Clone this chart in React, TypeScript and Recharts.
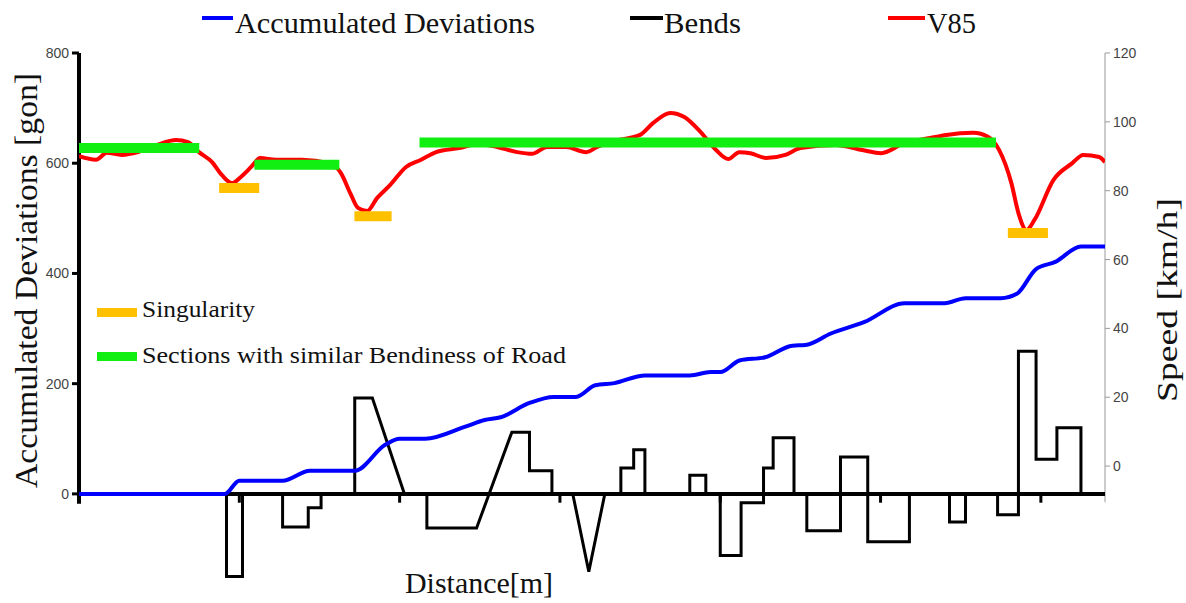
import React from "react";
import { ComposedChart, Line, XAxis, YAxis, ReferenceLine } from "recharts";

// ---- Data (distance in m) ----
const accDistance = [0, 455, 500, 635, 720, 860, 955, 1000, 1080, 1205, 1265, 1315, 1405, 1480, 1550, 1610, 1670, 1765, 1905, 1970, 2000, 2060, 2140, 2225, 2265, 2345, 2450, 2575, 2700, 2765, 2875, 2925, 2985, 3045, 3125, 3200];
const accValues = [0, 0, 24, 24, 42, 42, 89, 100, 100, 122, 134, 139, 165, 176, 176, 197, 201, 215, 215, 221, 221, 242, 248, 269, 270, 291, 312, 346, 346, 355, 355, 363, 408, 421, 449, 449];

const bendDistance = [0, 460, 460, 510, 510, 635, 635, 715, 715, 755, 755, 860, 860, 915, 1015, 1085, 1085, 1240, 1350, 1405, 1405, 1475, 1475, 1540, 1590, 1640, 1690, 1690, 1730, 1730, 1765, 1765, 1905, 1905, 1955, 1955, 2000, 2000, 2065, 2065, 2135, 2135, 2165, 2165, 2230, 2230, 2270, 2270, 2375, 2375, 2460, 2460, 2590, 2590, 2715, 2715, 2765, 2765, 2865, 2865, 2930, 2930, 2985, 2985, 3050, 3050, 3125, 3125];
const bendValues = [0, 0, -150, -150, 0, 0, -60, -60, -25, -25, 0, 0, 174, 174, 0, 0, -62, -62, 112, 112, 42, 42, 0, 0, -141, 0, 0, 47, 47, 80, 80, 0, 0, 34, 34, 0, 0, -112, -112, -16, -16, 47, 47, 102, 102, 0, 0, -67, -67, 67, 67, -87, -87, 0, 0, -51, -51, 0, 0, -38, -38, 259, 259, 63, 63, 120, 120, 0];

const v85Distance = [0, 53, 87, 134, 184, 243, 303, 340, 374, 415, 446, 477, 505, 537, 565, 615, 696, 780, 817, 846, 870, 899, 930, 970, 1020, 1067, 1114, 1186, 1245, 1304, 1367, 1413, 1460, 1519, 1582, 1616, 1654, 1750, 1791, 1844, 1888, 1941, 1987, 2025, 2059, 2094, 2143, 2203, 2250, 2359, 2443, 2502, 2574, 2655, 2705, 2789, 2836, 2870, 2908, 2930, 2955, 2980, 3039, 3098, 3132, 3182, 3200];
const v85Values = [90, 89, 91, 90.4, 91.2, 93.3, 94.7, 94.1, 91.2, 88.3, 84.5, 82.2, 84, 86.9, 89.5, 89, 89, 88, 85.1, 79.3, 75, 74.1, 77.9, 81.6, 86.9, 89, 91.2, 92.4, 93.6, 92.7, 91.2, 90.7, 92.7, 92.7, 91.2, 92.7, 94.1, 96.2, 99.7, 102.6, 101.4, 96.8, 91.8, 89.2, 91.2, 90.9, 89.5, 90.4, 92.4, 93.3, 91.8, 90.9, 93.8, 95.3, 96.2, 96.8, 95.6, 91.8, 82.2, 73.5, 68.6, 71.5, 83.1, 88, 90.4, 89.8, 88.3];

const sectionStart = [0, 547, 1062];
const sectionEnd = [375, 812, 2860];
const sectionSpeed = [92.4, 87.5, 94];

const singularityStart = [437, 859, 2897];
const singularityEnd = [562, 975, 3022];
const singularitySpeed = [80.8, 72.6, 67.7];

const distanceTicks = [500, 1000, 1500, 2000, 2500, 3000];
const leftTicks = [0, 200, 400, 600, 800];
const rightTicks = [0, 20, 40, 60, 80, 100, 120];

const COLORS = {
  acc: "#0000ff",
  bends: "#000000",
  v85: "#ff0000",
  section: "#11ee11",
  singularity: "#ffc000",
};

const accRows = accDistance.map((d, i) => ({ d, v: accValues[i] }));
const bendRows = bendDistance.map((d, i) => ({ d, v: bendValues[i] }));
const v85Rows = v85Distance.map((d, i) => ({ d, v: v85Values[i] }));
const sectionRows = sectionStart.map((s, i) => [
  { d: s, v: sectionSpeed[i] },
  { d: sectionEnd[i], v: sectionSpeed[i] },
]);
const singularityRows = singularityStart.map((s, i) => [
  { d: s, v: singularitySpeed[i] },
  { d: singularityEnd[i], v: singularitySpeed[i] },
]);

const W = 1186;
const H = 603;
const serif = "'Liberation Serif', 'Times New Roman', serif";
const sans = "'Liberation Sans', Arial, sans-serif";

export default function App() {
  return (
    <div style={{ position: "absolute", left: 0, top: 0, width: W, height: H, background: "#fff" }}>
      <ComposedChart
        width={W}
        height={H}
        margin={{ top: 53, right: 0, bottom: 4.4, left: 0 }}
      >
        <XAxis type="number" dataKey="d" domain={[0, 3200]} hide allowDataOverflow />
        <YAxis
          yAxisId="left"
          orientation="left"
          width={79}
          domain={[-190, 800]}
          ticks={leftTicks}
          allowDataOverflow
          axisLine={false}
          tickLine={{ stroke: "#000", strokeWidth: 3 }}
          tickSize={7}
          tickMargin={3}
          tick={{ fontFamily: sans, fontSize: 14, fill: "#444" }}
        />
        <YAxis
          yAxisId="right"
          orientation="right"
          width={81}
          domain={[-38.5, 120]}
          ticks={rightTicks}
          allowDataOverflow
          axisLine={false}
          tickLine={{ stroke: "#999", strokeWidth: 1 }}
          tickSize={5}
          tickMargin={3}
          tick={{ fontFamily: sans, fontSize: 14, fill: "#444" }}
        />

        {/* axis lines */}
        <ReferenceLine
          yAxisId="right"
          segment={[{ x: 3200, y: -10.5 }, { x: 3200, y: 120 }]}
          stroke="#999"
          strokeWidth={1}
          ifOverflow="visible"
        />
        <ReferenceLine
          yAxisId="left"
          segment={[{ x: 0, y: -18 }, { x: 0, y: 800 }]}
          stroke="#000"
          strokeWidth={4}
          ifOverflow="visible"
        />
        <ReferenceLine yAxisId="left" y={0} stroke="#000" strokeWidth={4} ifOverflow="visible" />
        {distanceTicks.map((t) => (
          <ReferenceLine
            key={"t" + t}
            yAxisId="left"
            segment={[{ x: t, y: 0 }, { x: t, y: -16 }]}
            stroke="#000"
            strokeWidth={3}
            ifOverflow="visible"
          />
        ))}

        <Line
          yAxisId="left"
          data={bendRows}
          dataKey="v"
          type="linear"
          stroke={COLORS.bends}
          strokeWidth={3}
          dot={false}
          activeDot={false}
          isAnimationActive={false}
        />
        <Line
          yAxisId="right"
          data={v85Rows}
          dataKey="v"
          type="monotone"
          stroke={COLORS.v85}
          strokeWidth={4}
          dot={false}
          activeDot={false}
          isAnimationActive={false}
        />
        {sectionRows.map((rows, i) => (
          <Line
            key={"s" + i}
            yAxisId="right"
            data={rows}
            dataKey="v"
            type="linear"
            stroke={COLORS.section}
            strokeWidth={10}
            strokeLinecap="butt"
            dot={false}
            activeDot={false}
            isAnimationActive={false}
          />
        ))}
        {singularityRows.map((rows, i) => (
          <Line
            key={"g" + i}
            yAxisId="right"
            data={rows}
            dataKey="v"
            type="linear"
            stroke={COLORS.singularity}
            strokeWidth={10}
            strokeLinecap="butt"
            dot={false}
            activeDot={false}
            isAnimationActive={false}
          />
        ))}
        <Line
          yAxisId="left"
          data={accRows}
          dataKey="v"
          type="monotone"
          stroke={COLORS.acc}
          strokeWidth={4}
          dot={false}
          activeDot={false}
          isAnimationActive={false}
        />
      </ComposedChart>

      <svg
        width={W}
        height={H}
        style={{ position: "absolute", left: 0, top: 0, pointerEvents: "none" }}
      >
        {/* top legend */}
        <line x1={202} y1={18} x2={233} y2={18} stroke={COLORS.acc} strokeWidth={4} />
        <text x={235} y={33} fontFamily={serif} fontSize={29} fill="#111" textLength={300} lengthAdjust="spacingAndGlyphs">
          Accumulated Deviations
        </text>
        <line x1={630} y1={18} x2={663} y2={18} stroke={COLORS.bends} strokeWidth={4} />
        <text x={664} y={33} fontFamily={serif} fontSize={29} fill="#111" textLength={77} lengthAdjust="spacingAndGlyphs">
          Bends
        </text>
        <line x1={888} y1={18} x2={925} y2={18} stroke={COLORS.v85} strokeWidth={4} />
        <text x={927} y={33} fontFamily={serif} fontSize={29} fill="#111" textLength={49} lengthAdjust="spacingAndGlyphs">
          V85
        </text>

        {/* inner legend */}
        <rect x={97} y={308} width={40} height={9} fill={COLORS.singularity} />
        <text x={142} y={317} fontFamily={serif} fontSize={24} fill="#111" textLength={113} lengthAdjust="spacingAndGlyphs">
          Singularity
        </text>
        <rect x={97} y={352} width={40} height={9} fill={COLORS.section} />
        <text x={142} y={363} fontFamily={serif} fontSize={24} fill="#111" textLength={424} lengthAdjust="spacingAndGlyphs">
          Sections with similar Bendiness of Road
        </text>

        {/* axis titles */}
        <text
          x={0}
          y={0}
          transform="translate(37,280.5) rotate(-90)"
          textAnchor="middle"
          fontFamily={serif}
          fontSize={32}
          fill="#111"
          textLength={415}
          lengthAdjust="spacingAndGlyphs"
        >
          Accumulated Deviations [gon]
        </text>
        <text
          x={0}
          y={0}
          transform="translate(1177,300) rotate(-90)"
          textAnchor="middle"
          fontFamily={serif}
          fontSize={30}
          fill="#111"
          textLength={204}
          lengthAdjust="spacingAndGlyphs"
        >
          Speed [km/h]
        </text>
        <text x={405} y={593} fontFamily={serif} fontSize={30} fill="#111" textLength={148} lengthAdjust="spacingAndGlyphs">
          Distance[m]
        </text>
      </svg>
    </div>
  );
}
